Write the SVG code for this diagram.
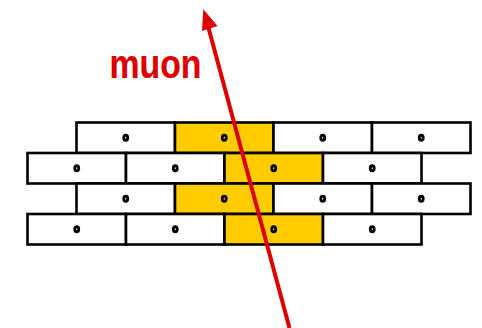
<svg xmlns="http://www.w3.org/2000/svg" width="482" height="328" viewBox="0 0 482 328">
<style>
.t{fill:#fff;stroke:#000;stroke-width:2.6}
.y{fill:#ffcc00;stroke:#000;stroke-width:2.6}
.d{fill:#fff;stroke:#000;stroke-width:2.8}
.l{font-family:"Liberation Sans",Arial,sans-serif;font-weight:700;font-size:41px;fill:#dd0000;stroke:#dd0000;stroke-width:.2}
</style>
<defs>
<g id="w"><rect class="t" width="98.5" height="30.5"/><ellipse class="d" cx="49.25" cy="15.25" rx="2" ry="2.5"/></g>
<g id="g"><rect class="y" width="98.5" height="30.5"/><ellipse class="d" cx="49.25" cy="15.25" rx="2" ry="2.5"/></g>
</defs>
<g id="row1">
<use href="#w" x="76.5" y="122.5"/><use href="#g" x="175" y="122.5"/><use href="#w" x="273.5" y="122.5"/><use href="#w" x="372" y="122.5"/>
</g>
<g id="row2">
<use href="#w" x="27.5" y="153"/><use href="#w" x="126" y="153"/><use href="#g" x="224.5" y="153"/><use href="#w" x="323" y="153"/>
</g>
<g id="row3">
<use href="#w" x="76.5" y="183.5"/><use href="#g" x="175" y="183.5"/><use href="#w" x="273.5" y="183.5"/><use href="#w" x="372" y="183.5"/>
</g>
<g id="row4">
<use href="#w" x="27.5" y="214"/><use href="#w" x="126" y="214"/><use href="#g" x="224.5" y="214"/><use href="#w" x="323" y="214"/>
</g>
<g id="connectors">
<line x1="289.5" y1="328" x2="208" y2="26" stroke="#dd0000" stroke-width="4"/>
<path d="M203.3 9.3L202 31L217.5 26Z" fill="#dd0000"/>
</g>
<g id="label"><text class="l" x="109.5" y="77.5" textLength="92" lengthAdjust="spacingAndGlyphs">muon</text></g>
</svg>
